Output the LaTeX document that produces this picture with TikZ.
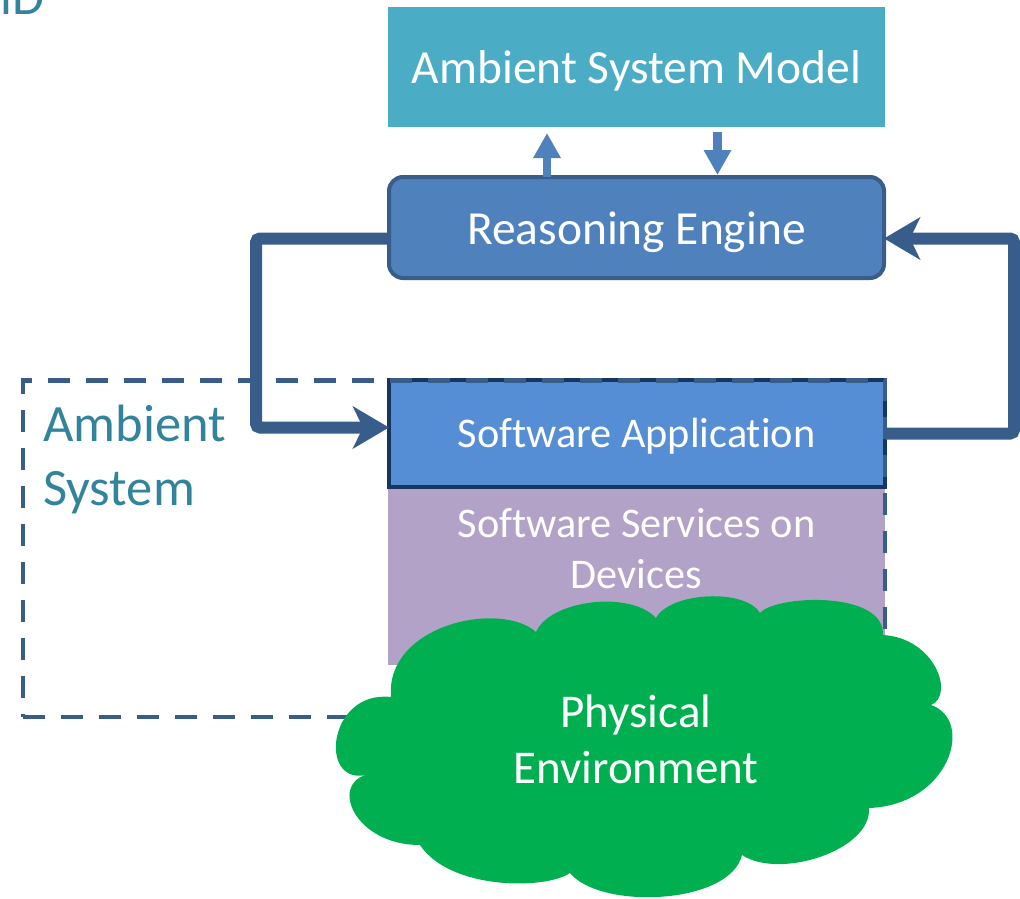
\documentclass[tikz,border=0pt]{standalone}
\usepackage{fontspec}
\setmainfont{Carlito}[Ligatures=NoCommon]
\usetikzlibrary{arrows.meta,calc}
\definecolor{asmfill}{HTML}{4BACC6}
\definecolor{refill}{HTML}{4F81BD}
\definecolor{reline}{HTML}{385D8A}
\definecolor{connc}{HTML}{385D8A}
\definecolor{appfill}{HTML}{558ED5}
\definecolor{appline}{HTML}{17365D}
\definecolor{svcfill}{HTML}{B2A2C7}
\definecolor{envfill}{HTML}{00B050}
\definecolor{tealtxt}{HTML}{31849B}
\tikzset{
  boxshape/.style={rectangle, inner sep=0pt, outer sep=0pt},
  wtxt/.style={text=white, inner sep=0pt, anchor=base},
  conn/.style={draw=connc, line width=12pt, rounded corners=4pt,
    -{Stealth[length=36pt,width=42pt,inset=10pt]}},
  blk/.style={draw=refill, line width=8.5pt,
    -{Triangle[length=25pt,width=26pt]}},
}
\begin{document}
\begin{tikzpicture}[x=1pt,y=-1pt]
\useasboundingbox (0,0) rectangle (1020,899);
\clip (0,0) rectangle (1020,899);

% title fragment
\node[anchor=base east, inner sep=0pt, text=tealtxt, font=\fontsize{52}{62}\selectfont] (title) at (45,15) {iD};

% boxes
\node[boxshape, fill=asmfill, minimum width=497pt, minimum height=120pt] (asm) at (636.5,67) {};
\node[boxshape, fill=refill, draw=reline, line width=4pt, rounded corners=14pt,
      minimum width=495pt, minimum height=101pt] (re) at (636.5,227.5) {};
\node[boxshape, fill=svcfill, minimum width=497pt, minimum height=178pt] (svc) at (636.5,576) {};
\node[boxshape, fill=appfill, draw=appline, line width=4pt,
      minimum width=496pt, minimum height=107pt] (app) at (637,433.5) {};

% texts in boxes
\node[wtxt, font=\fontsize{47.5}{58}\selectfont] (asmt) at (636.5,83) {Ambient System Model};
\node[wtxt, font=\fontsize{47.5}{58}\selectfont] (ret) at (636.5,244) {Reasoning Engine};
\node[wtxt, font=\fontsize{42.3}{51}\selectfont] (appt) at (636.5,447) {Software Application};
\node[wtxt, font=\fontsize{42.3}{51}\selectfont] (svct1) at (636.5,537) {Software Services on};
\node[wtxt, font=\fontsize{42.3}{51}\selectfont] (svct2) at (636.5,588) {Devices};

% ambient system boundary
\node[boxshape, draw=connc, line width=4.5pt, dash pattern=on 22pt off 16pt,
      minimum width=862pt, minimum height=336.5pt] (amb) at (454,548.75) {};
\node[anchor=base west, inner sep=0pt, text=tealtxt, font=\fontsize{52.5}{64}\selectfont] (ambt1) at (43,441) {Ambient};
\node[anchor=base west, inner sep=0pt, text=tealtxt, font=\fontsize{52.5}{64}\selectfont] (ambt2) at (43,505) {System};

% small block arrows
\draw[blk] ([xshift=-89.5pt]re.north) -- ([xshift=-89.5pt,yshift=-6pt]asm.south);
\draw[blk] ([xshift=81pt,yshift=-5pt]asm.south) -- ([xshift=81pt,yshift=2pt]re.north);

% loop connectors
\draw[conn] ([yshift=-11pt]re.west) -- ++(-133,0) |- ([yshift=6pt]app.west);
\draw[conn] (app.east) -- ++(129,0) |- ([yshift=-11pt]re.east);

% physical environment cloud
\path[fill=envfill] (366,775)
  .. controls (318,785) and (328,690) .. (391,697)
  .. controls (385,625) and (500,600) .. (536,632)
  .. controls (550,600) and (630,590) .. (656,618)
  .. controls (670,592) and (745,588) .. (760,613)
  .. controls (775,595) and (885,590) .. (883,635)
  .. controls (935,638) and (955,695) .. (931,705)
  .. controls (975,720) and (950,805) .. (869,808)
  .. controls (872,850) and (780,880) .. (742,855)
  .. controls (730,905) and (600,910) .. (570,873)
  .. controls (545,890) and (450,890) .. (420,845)
  .. controls (355,845) and (330,785) .. (366,775) -- cycle;
\node[wtxt, font=\fontsize{47}{56}\selectfont] (envt1) at (636,727) {Physical};
\node[wtxt, font=\fontsize{47}{56}\selectfont] (envt2) at (636,783) {Environment};
\end{tikzpicture}
\end{document}
